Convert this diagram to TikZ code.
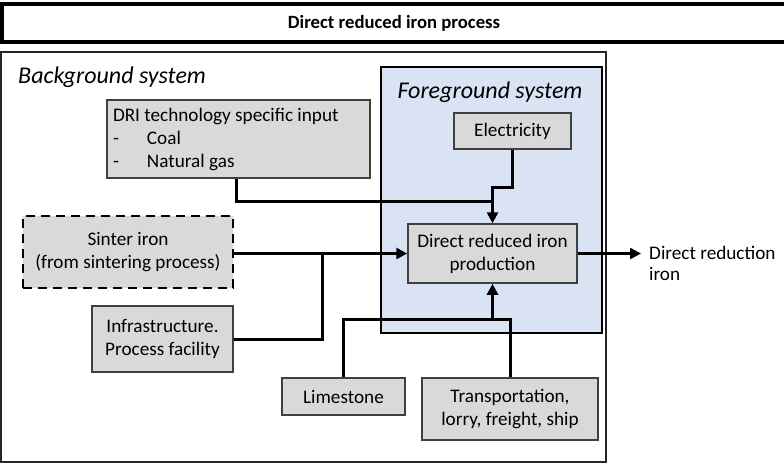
\documentclass[tikz,border=0pt]{standalone}
\usepackage{fontspec}
\setmainfont{Carlito}
\usetikzlibrary{arrows.meta,calc}
\definecolor{boxfill}{HTML}{D9D9D9}
\definecolor{boxline}{HTML}{404040}
\definecolor{fgfill}{HTML}{DAE3F3}
\tikzset{
  box/.style={draw=boxline, line width=1.5pt, fill=boxfill, align=center, inner sep=0pt,
    font=\fontsize{19.2}{23}\selectfont},
  conn/.style={line width=3pt, draw=black},
  arr/.style={-{Triangle[length=11pt,width=11pt]}},
  hdr/.style={font=\fontsize{24}{28}\selectfont\itshape, inner sep=0pt},
  body/.style={font=\fontsize{19.2}{21}\selectfont, inner sep=0pt, align=left},
}
\begin{document}
\begin{tikzpicture}[x=1pt,y=-1pt]
\useasboundingbox (0,0) rectangle (784,464);
\clip (0,0) rectangle (784,464);
% title
\draw[line width=3.5pt] (800,4) -- (2,4) -- (2,42) -- (800,42);
\node[font=\fontsize{18.7}{22}\selectfont\bfseries, inner sep=0pt] (title) at (394,23) {Direct reduced iron process};
% background system
\draw[line width=1.5pt, draw=black!85] (1,52) rectangle (606,462);
\node[hdr, anchor=west] (bglabel) at (18,77) {Background system};
% foreground system
\draw[line width=2pt, fill=fgfill] (381,67) rectangle (602,333);
\node[hdr] (fglabel) at (490,92) {Foreground system};
% boxes
\node[box, minimum width=117, minimum height=36] (elec) at (512.5,131) {Electricity};
\node[box, minimum width=169, minimum height=59] (dri) at (492.5,253.5) {Direct reduced iron\\production};
\node[box, minimum width=263, minimum height=78, align=flush left, text width=251, inner xsep=6pt] (driin) at (238.5,139)
  {DRI technology specific input\\\makebox[34pt][l]{-}Coal\\\makebox[34pt][l]{-}Natural gas};
\node[box, draw=black, dash pattern=on 9pt off 6pt, line width=2pt, minimum width=210, minimum height=72] (sinter) at (128,252) {Sinter iron\\(from sintering process)};
\node[box, minimum width=141, minimum height=66] (infra) at (162.5,339) {Infrastructure.\\Process facility};
\node[box, minimum width=123, minimum height=37] (lime) at (343.5,396.5) {Limestone};
\node[box, minimum width=176, minimum height=62] (transp) at (510,409) {Transportation,\\lorry, freight, ship};
% junction coordinates
\coordinate (jtop) at (492.5,201);
\coordinate (jleft) at (322,253.5);
\coordinate (jbot) at (492.5,319);
\coordinate (outend) at (641,253.5);
% connectors
\draw[conn] (driin.south -| 236,0) |- (jtop);
\draw[conn] (infra.east) -| (jleft);
\draw[conn] (lime.north) |- (jbot);
\draw[conn, arr] (elec.south) -- (elec.south |- 0,187) -| (dri.north);
\draw[conn, arr] (sinter.east |- dri.west) -- (dri.west);
\draw[conn, arr] (transp.north) -- (transp.north |- jbot) -- (jbot) -- (dri.south);
\draw[line width=2.5pt, arr] (dri.east) -- (outend);
\node[body, anchor=north west] (outlabel) at (649,246) {Direct reduction\\iron};
\end{tikzpicture}
\end{document}
